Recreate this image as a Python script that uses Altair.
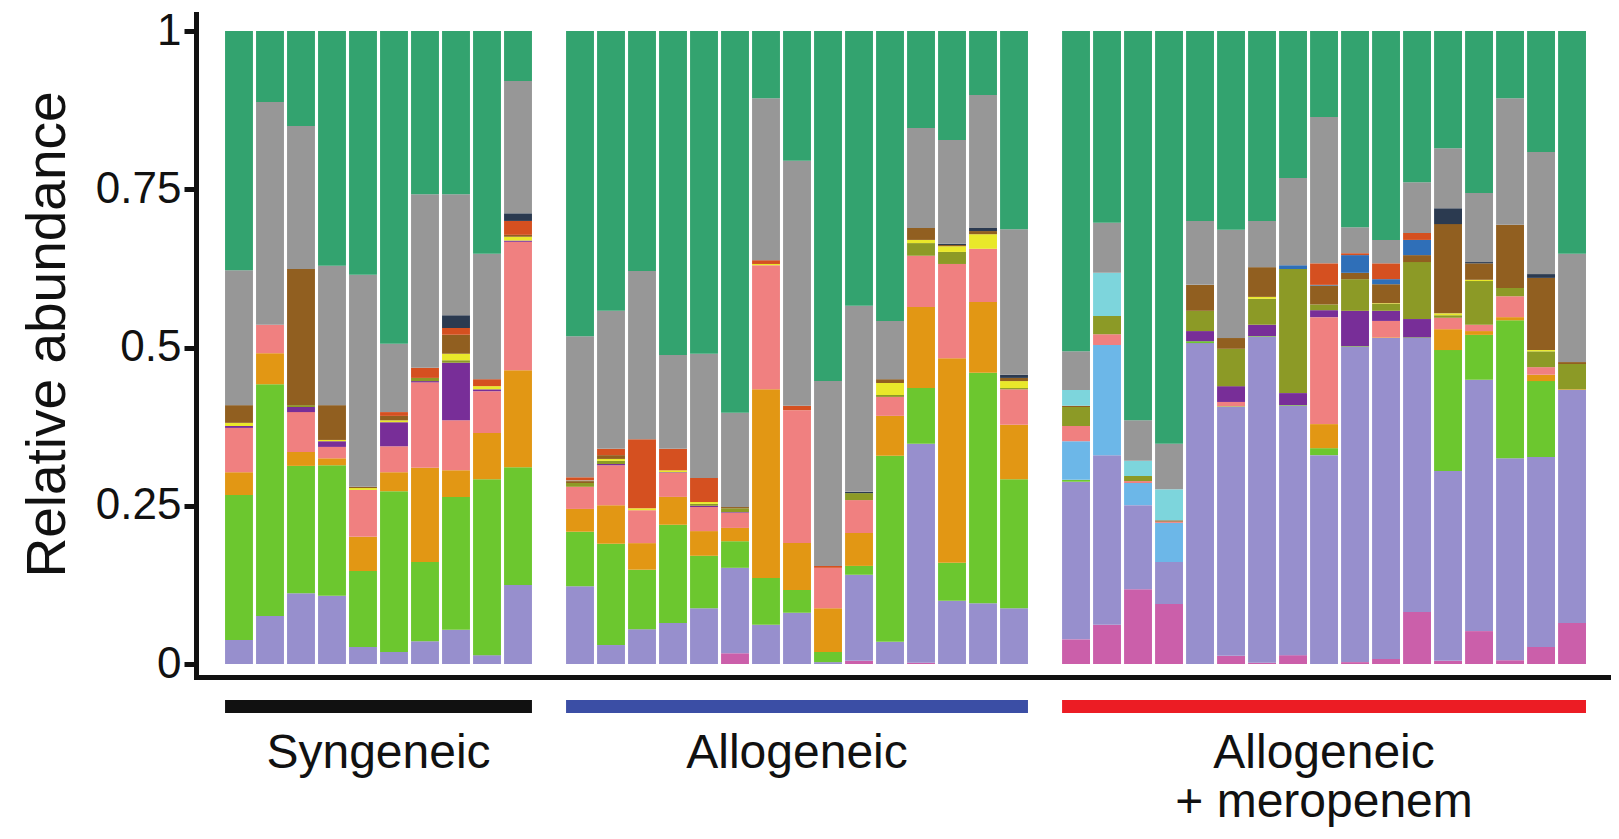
import altair as alt
import pandas as pd

# ---------------- data ----------------
groups = ["Syngeneic", "Allogeneic", "Allogeneic\n+ meropenem"]
group_sizes = [10, 15, 17]
group_colors = ["#111111", "#3B4EA5", "#EC1C24"]

taxa = ["magenta", "lavender", "green", "skyblue", "orange", "salmon", "purple",
        "olive", "yellow", "brown", "cyan", "blue", "redorange", "navy", "gray", "teal"]
taxon_colors = ["#CB5FAA", "#978FCD", "#6CC72F", "#6CB7E8", "#E29714", "#F08080", "#782E98",
                "#8C9A26", "#E9E82A", "#915F20", "#7DD5DC", "#2F6FB8", "#D55020", "#2B3A50",
                "#979797", "#33A36F"]

# values per taxon: 10 Syngeneic | 15 Allogeneic | 17 Allogeneic + meropenem
magenta = [0]*10 + [0, 0, 0, 0, 0, .017, 0, 0, 0, .005, 0, .002, 0, 0, 0] + \
    [.039, .062, .118, .095, 0, .013, .002, .014, 0, .003, .008, .082, .005, .052, .006, .027, .065]
lavender = [.038, .076, .112, .108, .027, .019, .036, .054, .014, .125] + \
    [.123, .030, .055, .065, .088, .135, .062, .081, .003, .136, .035, .346, .100, .096, .088] + \
    [.249, .268, .133, .066, .507, .393, .515, .394, .330, .498, .507, .433, .300, .397, .319, .300, .368]
green = [.229, .366, .201, .206, .120, .254, .125, .210, .278, .186] + \
    [.086, .160, .094, .155, .083, .042, .074, .036, .016, .014, .294, .088, .060, .364, .204] + \
    [.003, 0, 0, 0, .003, .001, .001, .001, .011, .001, 0, .001, .191, .071, .218, .120, 0]
skyblue = [0]*10 + [0]*15 + [.061, .174, .035, .062] + [0]*13
orange = [.036, .049, .022, .011, .054, .030, .149, .042, .073, .153] + \
    [.036, .061, .042, .044, .039, .021, .298, .074, .069, .052, .063, .128, .323, .112, .086] + \
    [0, 0, 0, 0, 0, 0, 0, 0, .038, 0, .001, 0, .033, .006, .005, .010, .001]
salmon = [.070, .045, .063, .018, .074, .041, .135, .079, .066, .203] + \
    [.035, .063, .052, .038, .038, .024, .196, .210, .064, .052, .030, .081, .149, .084, .056] + \
    [.024, .017, .003, .002, 0, .007, 0, 0, .169, 0, .026, 0, .018, .010, .033, .012, 0]
purple = [.003, 0, .008, .009, 0, .038, .002, .091, .003, .002] + \
    [0, .002, 0, .001, .002, .001, 0, 0, 0, 0, 0, 0, 0, 0, 0] + \
    [0, 0, 0, 0, .016, .025, .018, .019, .011, .056, .016, .029, 0, 0, 0, 0, 0]
olive = [0, 0, .003, 0, 0, 0, .005, .004, 0, 0] + \
    [.006, .005, 0, 0, .003, .006, 0, 0, 0, .011, .003, .020, .019, 0, .002] + \
    [.030, .029, .008, 0, .032, .059, .041, .196, .009, .050, .011, .090, .004, .069, .013, .025, .040]
yellow = [.005, 0, 0, .002, .003, .003, 0, .010, .005, .006] + \
    [0, .003, .003, .003, .003, 0, .002, 0, 0, 0, .019, .005, .009, .023, .011] + \
    [0, 0, 0, 0, 0, 0, .003, 0, 0, 0, .001, 0, .003, .002, 0, .002, 0]
brown = [.028, 0, .215, .055, .002, .007, 0, .030, 0, .003] + \
    [.003, .006, 0, 0, 0, .002, 0, 0, 0, 0, .006, .019, .002, .005, .005] + \
    [.002, 0, 0, .002, .041, .017, .047, 0, .030, .010, .030, .011, .141, .026, .100, .114, .003]
cyan = [0]*10 + [.001] + [0]*14 + [.025, .068, .024, .049] + [0]*13
blue = [0]*10 + [0]*15 + [0, 0, 0, 0, 0, 0, 0, .006, .001, .028, .008, .024, 0, 0, 0, 0, 0]
redorange = [0, 0, 0, 0, 0, .006, .016, .011, .011, .022] + \
    [.005, .010, .109, .034, .038, 0, .006, .007, .003, 0, 0, 0, 0, 0, 0] + \
    [0, 0, 0, 0, 0, 0, 0, 0, .034, .003, .025, .011, 0, 0, 0, 0, 0]
navy = [0, 0, 0, 0, 0, 0, 0, .020, 0, .012] + \
    [0, 0, 0, 0, 0, 0, 0, 0, 0, .002, 0, 0, .002, .005, .005] + \
    [0]*12 + [.025, .002, 0, .006, 0]
gray = [.213, .352, .226, .220, .335, .108, .274, .191, .198, .209] + \
    [.223, .218, .266, .148, .196, .149, .256, .387, .292, .294, .092, .158, .164, .210, .230] + \
    [.061, .079, .064, .072, .101, .171, .073, .138, .231, .041, .037, .080, .095, .109, .200, .193, .171]
teal = [.378, .112, .150, .371, .385, .494, .258, .258, .352, .079] + \
    [.482, .442, .379, .512, .510, .603, .106, .205, .553, .434, .458, .153, .172, .101, .313] + \
    [.506, .303, .615, .652, .300, .314, .300, .232, .136, .310, .330, .239, .185, .256, .106, .191, .352]

series = [magenta, lavender, green, skyblue, orange, salmon, purple, olive, yellow,
          brown, cyan, blue, redorange, navy, gray, teal]

# ---------------- tables ----------------
samples, slots = [], []
pos = 0
group_rows, label_rows = [], []
for gi, (g, n) in enumerate(zip(groups, group_sizes)):
    first = pos
    for k in range(n):
        samples.append(f"{g.splitlines()[0]}-{gi}-{k + 1}")
        slots.append(pos)
        pos += 1
    last = pos - 1
    pos += 1  # gap between groups
    group_rows.append({"group": g, "xa": first - 0.45, "xb": last + 0.45, "gcolor": group_colors[gi]})
    for li, line in enumerate(g.split("\n")):
        label_rows.append({"text": line, "xc": (first + last) / 2, "line": li})

rows = []
for order, (t, vals) in enumerate(zip(taxa, series)):
    for s, sl, v in zip(samples, slots, vals):
        if v > 0:
            rows.append({"sample": s, "slot": sl, "taxon": t, "order": order, "value": v})
df = pd.DataFrame(rows)
gdf = pd.DataFrame(group_rows)
ldf = pd.DataFrame(label_rows)

FONT = "Liberation Sans"
INK = "#111111"

xscale = alt.Scale(domain=[-1.387, 44.16], nice=False, zero=False)
yscale = alt.Scale(domain=[-0.0205, 1.0269], nice=False, zero=False)
xaxis = alt.Axis(labels=False, ticks=False, title=None, grid=False,
                 domainWidth=5, domainColor=INK, domainCap="square")
yaxis = alt.Axis(values=[0, 0.25, 0.5, 0.75, 1], labelExpr="'' + datum.value",
                 title="Relative abundance", grid=False,
                 labelFont=FONT, labelFontSize=44, labelColor=INK, labelPadding=3,
                 tickSize=12, tickWidth=5, tickColor=INK,
                 domainWidth=5, domainColor=INK, domainCap="square",
                 titleFont=FONT, titleFontSize=55, titleFontWeight="normal", titleColor=INK,
                 titleAngle=270, titleBaseline="alphabetic", titleAlign="center",
                 titleX=-132, titleY=320)

bars = alt.Chart(df).transform_stack(
    stack="value", groupby=["sample"], sort=[alt.SortField("order", order="ascending")],
    as_=["y0", "y1"]
).transform_calculate(
    xa="datum.slot - 0.45", xb="datum.slot + 0.45"
).mark_rect().encode(
    x=alt.X("xa:Q", scale=xscale, axis=xaxis),
    x2="xb:Q",
    y=alt.Y("y0:Q", scale=yscale, axis=yaxis),
    y2="y1:Q",
    color=alt.Color("taxon:N", scale=alt.Scale(domain=taxa, range=taxon_colors), legend=None),
)

group_bars = alt.Chart(gdf).mark_rect().encode(
    x=alt.X("xa:Q", scale=xscale, axis=xaxis),
    x2="xb:Q",
    y=alt.datum(-0.057),
    y2=alt.datum(-0.0775),
    color=alt.Color("gcolor:N", scale=None, legend=None),
)

labels = alt.Chart(ldf).transform_calculate(
    yl="-0.1643 - 0.0774 * datum.line"
).mark_text(font=FONT, fontSize=48, color=INK, align="center", baseline="alphabetic").encode(
    x=alt.X("xc:Q", scale=xscale, axis=xaxis),
    y=alt.Y("yl:Q", scale=yscale, axis=yaxis),
    text="text:N",
)

chart = alt.layer(bars, group_bars, labels).resolve_scale(color="independent").properties(
    width=1412, height=663,
    autosize=alt.AutoSizeParams(type="none"),
    padding={"left": 188, "top": 6, "right": 3, "bottom": 150},
    background="white",
).configure_view(stroke=None)

chart.save("out.html", embed_options={"renderer": "svg", "actions": False})
